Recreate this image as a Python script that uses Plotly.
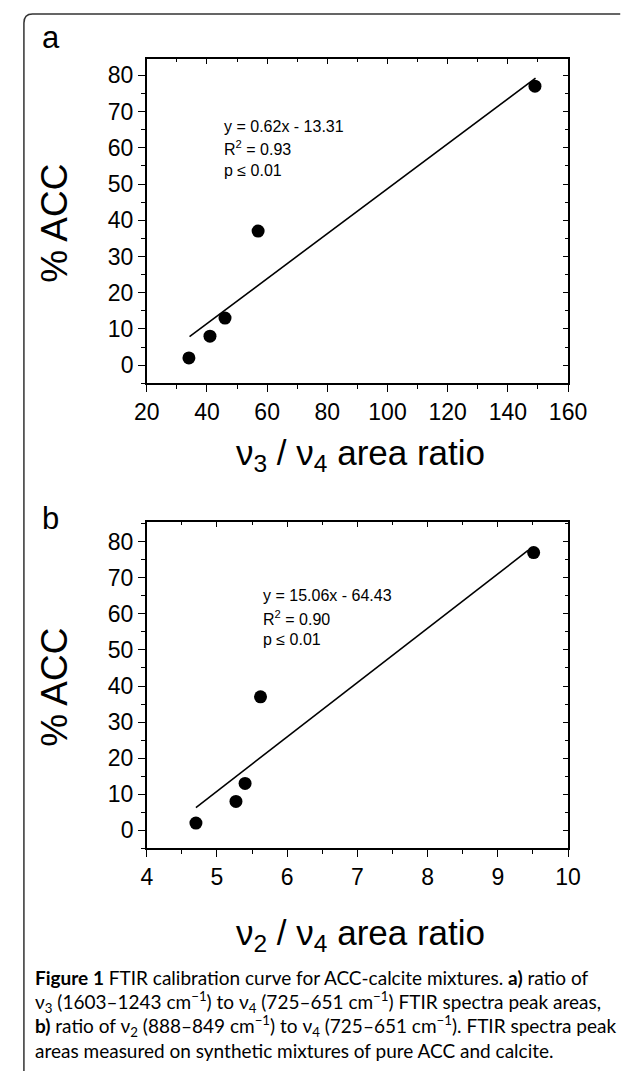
import plotly.graph_objects as go

W, H = 625, 1071

# ---- data ----
a_ratio = [34, 41, 46, 57, 149]          # nu3/nu4 area ratio
a_acc = [2, 8, 13, 37, 77]               # % ACC
a_fit_x = [34.2, 149.2]
a_fit_y = [7.9, 79.2]
a_text = ["y = 0.62x - 13.31", "R<sup>2</sup> = 0.93", "p ≤ 0.01"]

b_ratio = [4.70, 5.27, 5.40, 5.62, 9.51]  # nu2/nu4 area ratio
b_acc = [2, 8, 13, 37, 77]
b_fit_x = [4.70, 9.43]
b_fit_y = [6.3, 77.6]
b_text = ["y = 15.06x - 64.43", "R<sup>2</sup> = 0.90", "p ≤ 0.01"]

caption_lines = [
    "<b>Figure 1</b> FTIR calibration curve for ACC-calcite mixtures. <b>a)</b> ratio of",
    "ν<sub>3</sub> (1603–1243 cm<sup>−1</sup>) to ν<sub>4</sub> (725–651 cm<sup>−1</sup>) FTIR spectra peak areas,",
    "<b>b)</b> ratio of ν<sub>2</sub> (888–849 cm<sup>−1</sup>) to ν<sub>4</sub> (725–651 cm<sup>−1</sup>). FTIR spectra peak",
    "areas measured on synthetic mixtures of pure ACC and calcite.",
]


def px(x):
    return x / W


def py(y):
    return 1 - y / H


FONT = "Liberation Sans, Arial, sans-serif"

fig = go.Figure()

# panel a
fig.add_trace(go.Scatter(x=a_fit_x, y=a_fit_y, mode="lines",
                         line=dict(color="black", width=1.6),
                         xaxis="x", yaxis="y", showlegend=False))
fig.add_trace(go.Scatter(x=a_ratio, y=a_acc, mode="markers",
                         marker=dict(color="black", size=13),
                         xaxis="x", yaxis="y", showlegend=False))
# panel b
fig.add_trace(go.Scatter(x=b_fit_x, y=b_fit_y, mode="lines",
                         line=dict(color="black", width=1.6),
                         xaxis="x2", yaxis="y2", showlegend=False))
fig.add_trace(go.Scatter(x=b_ratio, y=b_acc, mode="markers",
                         marker=dict(color="black", size=13),
                         xaxis="x2", yaxis="y2", showlegend=False))
# invisible traces on mirror axes
fig.add_trace(go.Scatter(x=[None], y=[None], xaxis="x3", yaxis="y3",
                         showlegend=False, hoverinfo="skip"))
fig.add_trace(go.Scatter(x=[None], y=[None], xaxis="x4", yaxis="y4",
                         showlegend=False, hoverinfo="skip"))

xdom = [px(141), px(585)]
ydom_a = [py(383.3), py(59)]
ydom_b = [py(848.3), py(522.3)]

TICKFONT = dict(family=FONT, size=23, color="black")


def main_x(rng, dtick, mdt, anchor):
    return dict(domain=xdom, range=rng, anchor=anchor, tick0=rng[0], dtick=dtick,
                ticks="outside", ticklen=7, tickwidth=1.2, tickcolor="black",
                minor=dict(dtick=mdt, ticks="outside", ticklen=4, tickwidth=1.2, tickcolor="black"),
                showline=True, linewidth=1.5, linecolor="black", showgrid=False,
                zeroline=False, tickfont=TICKFONT)


def main_y(rng, dom, anchor):
    return dict(domain=dom, range=rng, anchor=anchor, tick0=0, dtick=10,
                ticks="outside", ticklen=7, tickwidth=1.2, tickcolor="black",
                minor=dict(dtick=5, tick0=0, ticks="outside", ticklen=4, tickwidth=1.2, tickcolor="black"),
                showline=True, linewidth=1.5, linecolor="black", showgrid=False,
                zeroline=False, tickfont=TICKFONT)


def mirror_x(rng, dtick, mdt, over, anchor):
    return dict(overlaying=over, side="top", anchor=anchor, range=rng, tick0=rng[0], dtick=dtick,
                ticks="inside", ticklen=5, tickwidth=1.2, tickcolor="black",
                minor=dict(dtick=mdt, ticks="inside", ticklen=3, tickwidth=1.2, tickcolor="black"),
                showline=True, linewidth=1.5, linecolor="black", showgrid=False,
                zeroline=False, showticklabels=False)


def mirror_y(rng, over, anchor):
    return dict(overlaying=over, side="right", anchor=anchor, range=rng, tick0=0, dtick=10,
                ticks="inside", ticklen=5, tickwidth=1.2, tickcolor="black",
                minor=dict(dtick=5, tick0=0, ticks="inside", ticklen=3, tickwidth=1.2, tickcolor="black"),
                showline=True, linewidth=1.5, linecolor="black", showgrid=False,
                zeroline=False, showticklabels=False)


ra_x, ra_y = [20, 160], [-5, 84.5]
rb_x, rb_y = [4, 10], [-5, 85.4]

fig.update_layout(
    width=W, height=H,
    margin=dict(l=0, r=0, t=0, b=0),
    paper_bgcolor="white", plot_bgcolor="rgba(0,0,0,0)",
    xaxis=main_x(ra_x, 20, 10, "y"),
    yaxis=main_y(ra_y, ydom_a, "x"),
    xaxis2=main_x(rb_x, 1, 0.5, "y2"),
    yaxis2=main_y(rb_y, ydom_b, "x2"),
    xaxis3=mirror_x(ra_x, 20, 10, "x", "y3"),
    yaxis3=mirror_y(ra_y, "y", "x3"),
    xaxis4=mirror_x(rb_x, 1, 0.5, "x2", "y4"),
    yaxis4=mirror_y(rb_y, "y2", "x4"),
    showlegend=False,
)

ann = []


def add_text(x, y, text, size, xanchor="center", yanchor="middle", angle=0, family=FONT):
    ann.append(dict(x=px(x), y=py(y), xref="paper", yref="paper", text=text,
                    showarrow=False, xanchor=xanchor, yanchor=yanchor, textangle=angle,
                    font=dict(family=family, size=size, color="black")))


# panel letters
add_text(28, 38, "a", 31, xanchor="left")
add_text(28, 518, "b", 31, xanchor="left")

# axis titles
add_text(43, 223, "% ACC", 37, angle=-90)
add_text(43, 687, "% ACC", 37, angle=-90)
add_text(366, 455, "ν<sub>3</sub> / ν<sub>4</sub> area ratio", 35)
add_text(366, 935, "ν<sub>2</sub> / ν<sub>4</sub> area ratio", 35)

# regression annotations
for t, yy in zip(a_text, [126.5, 148.5, 170]):
    add_text(220, yy, t, 16, xanchor="left")
for t, yy in zip(b_text, [595, 617.5, 639]):
    add_text(261, yy, t, 16, xanchor="left")

# caption
for t, yy in zip(caption_lines, [977, 1002, 1026, 1050]):
    add_text(21, yy, t, 19, xanchor="left", family="Lato, Open Sans, sans-serif")

fig.update_layout(annotations=ann)

# outer rounded frame (top-left corner only visible)
x0, y0, r = 11.5, 14, 9
path = (f"M {px(x0)},{py(1080)} L {px(x0)},{py(y0 + r)} "
        f"Q {px(x0)},{py(y0)} {px(x0 + r)},{py(y0)} L {px(640)},{py(y0)}")
fig.add_shape(type="path", path=path, xref="paper", yref="paper",
              line=dict(color="#333333", width=1.5))

fig.write_html("out.html", config={"displayModeBar": False},
               post_script="document.body.style.margin='0';")
